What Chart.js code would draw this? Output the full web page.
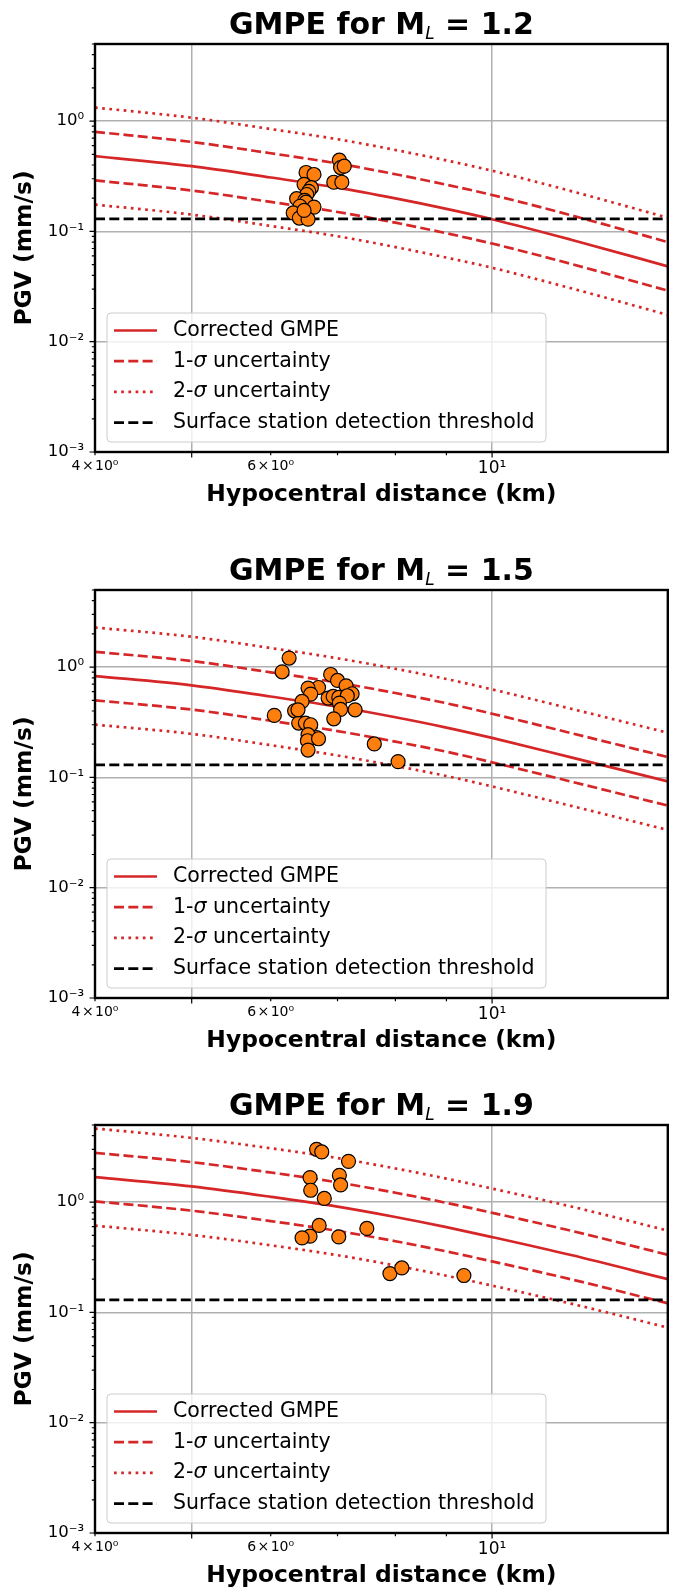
<!DOCTYPE html>
<html>
<head>
<meta charset="utf-8">
<script src="https://cdn.jsdelivr.net/npm/chart.js@4.4.0/dist/chart.umd.min.js"></script>
<style>
  body { margin: 0; background: #fff; width: 676px; height: 1591px; position: relative; overflow: hidden; }
  canvas { position: absolute; left: 0; }
</style>
</head>
<body>
<canvas id="c12" width="676" height="509" style="top:0px"></canvas>
<canvas id="c15" width="676" height="509" style="top:546px"></canvas>
<canvas id="c19" width="676" height="509" style="top:1081px"></canvas>
<script>
const FONT = 'DejaVu Sans';

// hypocentral distances (km) at which the GMPE curves are read
const distances = [4, 5, 6, 7, 8, 9, 10, 12, 15];
const threshold = 0.13; // mm/s

// M_L = 1.2
const gmpe12    = [0.482, 0.390, 0.308, 0.249, 0.199, 0.160, 0.129, 0.0841, 0.0482];
const gmpe12Up1 = [0.800, 0.647, 0.511, 0.413, 0.330, 0.265, 0.214, 0.140, 0.0800];
const gmpe12Lo1 = [0.290, 0.235, 0.185, 0.150, 0.120, 0.0962, 0.0776, 0.0507, 0.0290];
const gmpe12Up2 = [1.327, 1.074, 0.847, 0.685, 0.547, 0.440, 0.355, 0.232, 0.133];
const gmpe12Lo2 = [0.175, 0.142, 0.112, 0.0904, 0.0721, 0.0579, 0.0468, 0.0305, 0.0175];
const obs12Dist = [6.51, 6.63, 6.48, 6.59, 6.55, 6.52, 6.37, 6.49, 6.51, 6.63, 6.42, 6.32, 6.41, 6.54, 6.48, 7.03, 7.05, 7.11, 6.94, 7.07];
const obs12Pgv  = [0.342, 0.328, 0.267, 0.249, 0.231, 0.216, 0.198, 0.191, 0.184, 0.166, 0.169, 0.147, 0.132, 0.129, 0.155, 0.442, 0.379, 0.390, 0.279, 0.279];

// M_L = 1.5
const gmpe15    = [0.830, 0.684, 0.541, 0.437, 0.351, 0.283, 0.228, 0.152, 0.0920];
const gmpe15Up1 = [1.377, 1.135, 0.897, 0.724, 0.582, 0.470, 0.378, 0.252, 0.153];
const gmpe15Lo1 = [0.500, 0.412, 0.326, 0.263, 0.211, 0.171, 0.137, 0.0916, 0.0555];
const gmpe15Up2 = [2.286, 1.884, 1.489, 1.202, 0.966, 0.780, 0.628, 0.419, 0.254];
const gmpe15Lo2 = [0.301, 0.248, 0.196, 0.158, 0.127, 0.103, 0.0828, 0.0552, 0.0334];
const obs15Dist = [6.26, 6.16, 6.89, 7.00, 7.14, 6.70, 6.54, 6.58, 7.24, 6.85, 6.93, 7.02, 7.16, 6.45, 7.03, 6.34, 7.05, 7.29, 6.05, 6.94, 6.40, 6.50, 6.58, 6.67, 6.54, 6.53, 6.54, 7.62, 8.05, 6.39, 6.70];
const obs15Pgv  = [1.208, 0.906, 0.857, 0.757, 0.677, 0.653, 0.645, 0.569, 0.573, 0.524, 0.542, 0.531, 0.550, 0.488, 0.472, 0.402, 0.413, 0.410, 0.365, 0.340, 0.311, 0.311, 0.300, 0.230, 0.244, 0.215, 0.177, 0.201, 0.139, 0.410, 0.224];

// M_L = 1.9
const gmpe19    = [1.687, 1.387, 1.117, 0.910, 0.733, 0.593, 0.482, 0.331, 0.200];
const gmpe19Up1 = [2.799, 2.301, 1.854, 1.510, 1.216, 0.984, 0.800, 0.550, 0.333];
const gmpe19Lo1 = [1.016, 0.836, 0.673, 0.548, 0.442, 0.357, 0.290, 0.1995, 0.121];
const gmpe19Up2 = [4.645, 3.819, 3.076, 2.506, 2.018, 1.633, 1.327, 0.912, 0.552];
const gmpe19Lo2 = [0.612, 0.504, 0.406, 0.330, 0.266, 0.215, 0.175, 0.120, 0.0728];
const obs19Dist = [6.67, 6.75, 7.18, 6.57, 7.03, 7.05, 6.58, 6.79, 6.71, 6.57, 6.45, 7.02, 7.49, 7.90, 8.12, 9.37];
const obs19Pgv  = [3.01, 2.85, 2.34, 1.67, 1.75, 1.43, 1.28, 1.08, 0.614, 0.491, 0.474, 0.484, 0.577, 0.225, 0.253, 0.216];

// axes
const xRange = [4, 15];
const yRange = [0.001, 5];
const xTickValues = [4, 6, 10];
const xTickLabels = ['4\u200a×\u200a10⁰', '6\u200a×\u200a10⁰', '10¹'];
const xMarks = [4, 5, 6, 7, 8, 9, 10];
const xGrid = [5, 10];
const yTickValues = [0.001, 0.01, 0.1, 1];
const yTickLabels = ['10⁻³', '10⁻²', '10⁻¹', '10⁰'];

const RED = '#d62728';
const LW = 2.7;
const DASH = [10, 4.3];
const DOT = [2.7, 4.5];

const yMarks = [];
for (let d = -3; d <= 0; d++) {
  for (let m = 1; m <= 9; m++) {
    const v = +(m * Math.pow(10, d)).toPrecision(3);
    if (v <= yRange[1]) yMarks.push(v);
  }
}
const isDecade = v => yTickValues.some(t => Math.abs(t - v) / t < 1e-6);

function pts(xs, ys) { return xs.map((x, i) => ({x: x, y: ys[i]})); }

function curve(label, values, color, dash) {
  return {
    type: 'scatter', label: label, data: pts(distances, values), showLine: true,
    borderColor: color, borderWidth: LW, borderDash: dash, pointRadius: 0,
    cubicInterpolationMode: 'monotone', fill: false, order: 2
  };
}

const decorations = {
  id: 'decorations',
  afterDraw(chart, args, opts) {
    const {ctx, chartArea: a, scales} = chart;
    const xs = scales.x, ys = scales.y;
    ctx.save();

    // tick marks (out)
    ctx.strokeStyle = '#000';
    ctx.lineWidth = 1.2;
    ctx.beginPath();
    yMarks.forEach(v => {
      const p = ys.getPixelForValue(v);
      const len = isDecade(v) ? 5.5 : 3.2;
      ctx.moveTo(a.left, p); ctx.lineTo(a.left - len, p);
    });
    xMarks.forEach(v => {
      const p = xs.getPixelForValue(v);
      const len = xGrid.includes(v) ? 5.5 : 3.2;
      ctx.moveTo(p, a.bottom); ctx.lineTo(p, a.bottom + len);
    });
    ctx.stroke();

    // frame
    ctx.lineWidth = 2.4;
    ctx.strokeRect(a.left, a.top, a.right - a.left, a.bottom - a.top);

    // title with subscript L
    const big = 'bold 30px "' + FONT + '"';
    const sub = 'italic 17px "' + FONT + '"';
    const parts = [
      {t: 'GMPE for M', f: big, dy: 0},
      {t: 'L', f: sub, dy: 5},
      {t: ' = ' + opts.magnitude, f: big, dy: 0}
    ];
    let total = 0;
    parts.forEach(p => { ctx.font = p.f; p.w = ctx.measureText(p.t).width; total += p.w; });
    let tx = (a.left + a.right) / 2 - total / 2;
    const base = a.top - 10.5;
    ctx.fillStyle = '#000';
    ctx.textBaseline = 'alphabetic';
    ctx.textAlign = 'left';
    parts.forEach(p => { ctx.font = p.f; ctx.fillText(p.t, tx, base + p.dy); tx += p.w; });

    // legend
    const items = chart.data.datasets.filter(d => d.inLegend);
    const fs = 20.5;
    const bx = a.left + 12, bw = 439, bh = 129;
    const by = a.bottom - 10 - bh;
    ctx.beginPath();
    ctx.roundRect(bx, by, bw, bh, 4);
    ctx.fillStyle = 'rgba(255,255,255,0.8)';
    ctx.fill();
    ctx.strokeStyle = '#cccccc';
    ctx.lineWidth = 1;
    ctx.stroke();
    ctx.textBaseline = 'middle';
    items.forEach((d, i) => {
      const yy = by + 17.5 + i * 30.7;
      ctx.beginPath();
      ctx.setLineDash(d.borderDash || []);
      ctx.strokeStyle = d.borderColor;
      ctx.lineWidth = d.borderWidth;
      ctx.moveTo(bx + 7, yy); ctx.lineTo(bx + 50, yy);
      ctx.stroke();
      ctx.setLineDash([]);
      ctx.fillStyle = '#000';
      let lx = bx + 66;
      d.label.split(/(σ)/).forEach(seg => {
        if (!seg) return;
        ctx.font = (seg === 'σ' ? 'italic ' : '') + fs + 'px "' + FONT + '"';
        ctx.fillText(seg, lx, yy);
        lx += ctx.measureText(seg).width;
      });
    });
    ctx.restore();
  }
};

function makePanel(id, magnitude, med, up1, lo1, up2, lo2, obsDist, obsPgv) {
  const datasets = [
    {type: 'scatter', data: pts(obsDist, obsPgv), pointRadius: 7, pointBackgroundColor: '#ff7f0e',
     pointBorderColor: '#000', pointBorderWidth: 1.2, showLine: false, order: 0},
    Object.assign(curve('Corrected GMPE', med, RED, []), {inLegend: true}),
    Object.assign(curve('1-σ uncertainty', up1, RED, DASH), {inLegend: true}),
    curve('', lo1, RED, DASH),
    Object.assign(curve('2-σ uncertainty', up2, RED, DOT), {inLegend: true}),
    curve('', lo2, RED, DOT),
    {type: 'scatter', label: 'Surface station detection threshold', data: pts(xRange, [threshold, threshold]),
     showLine: true, borderColor: '#000', borderWidth: LW, borderDash: DASH, pointRadius: 0, order: 1, inLegend: true}
  ];

  new Chart(document.getElementById(id), {
    type: 'scatter',
    data: {datasets: datasets},
    options: {
      responsive: false,
      animation: false,
      devicePixelRatio: 1,
      layout: {padding: {top: 44, right: 4, left: 0, bottom: 0}},
      plugins: {
        legend: {display: false},
        tooltip: {enabled: false},
        decorations: {magnitude: magnitude}
      },
      scales: {
        x: {
          type: 'logarithmic', min: xRange[0], max: xRange[1],
          afterBuildTicks: s => { s.ticks = xMarks.map(v => ({value: v})); },
          afterFit: s => { s.height = 57; },
          ticks: {
            autoSkip: false, maxRotation: 0, padding: 6, color: '#000',
            font: c => ({family: FONT, size: (c.tick && c.tick.value === 10) ? 17 : 14}),
            callback: v => { const i = xTickValues.indexOf(v); return i >= 0 ? xTickLabels[i] : ''; }
          },
          grid: {
            drawTicks: false, lineWidth: 1.5,
            color: c => (c.tick && xGrid.includes(c.tick.value)) ? '#b0b0b0' : 'rgba(0,0,0,0)'
          },
          border: {display: false},
          title: {display: true, text: 'Hypocentral distance (km)', color: '#000', padding: 0,
                  font: {family: FONT, size: 23.4, weight: 'bold'}}
        },
        y: {
          type: 'logarithmic', min: yRange[0], max: yRange[1],
          afterBuildTicks: s => { s.ticks = yMarks.map(v => ({value: v})); },
          afterFit: s => { s.width = 95; },
          ticks: {
            autoSkip: false, padding: 11, color: '#000',
            font: {family: FONT, size: 16.5},
            callback: v => { const i = yTickValues.findIndex(t => Math.abs(t - v) / t < 1e-6); return i >= 0 ? yTickLabels[i] : ''; }
          },
          grid: {
            drawTicks: false, lineWidth: 1.5,
            color: c => (c.tick && isDecade(c.tick.value)) ? '#b0b0b0' : 'rgba(0,0,0,0)'
          },
          border: {display: false},
          title: {display: true, text: 'PGV (mm/s)', color: '#000', padding: {top: 11, bottom: 0},
                  font: {family: FONT, size: 23.4, weight: 'bold'}}
        }
      }
    },
    plugins: [decorations]
  });
}

makePanel('c12', '1.2', gmpe12, gmpe12Up1, gmpe12Lo1, gmpe12Up2, gmpe12Lo2, obs12Dist, obs12Pgv);
makePanel('c15', '1.5', gmpe15, gmpe15Up1, gmpe15Lo1, gmpe15Up2, gmpe15Lo2, obs15Dist, obs15Pgv);
makePanel('c19', '1.9', gmpe19, gmpe19Up1, gmpe19Lo1, gmpe19Up2, gmpe19Lo2, obs19Dist, obs19Pgv);
</script>
</body>
</html>
